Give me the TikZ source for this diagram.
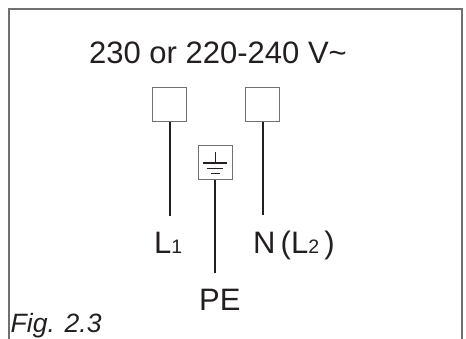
\documentclass[tikz,border=0pt]{standalone}
\usepackage{fontspec}
\setmainfont{Liberation Sans}
\usetikzlibrary{calc}
\definecolor{ink}{HTML}{231F20}
\definecolor{boxgray}{HTML}{707070}
\tikzset{
    terminal/.style = {draw=boxgray, rectangle, line width=1.2pt,
        minimum width=34pt, minimum height=34pt, inner sep=0pt},
    label/.style = {inner sep=0pt, anchor=base west, text=ink,
        font=\fontsize{31}{36}\selectfont},
    wire/.style = {draw=ink, line width=1.8pt, shorten >=15.5pt},
    frame/.style = {draw=boxgray, line width=1.3pt}
}
\newcommand{\idx}[1]{{\fontsize{19.5}{22}\selectfont #1}}
\begin{document}
\begin{tikzpicture}[x=1pt,y=-1pt]
                \useasboundingbox (0,0) rectangle (466,339);
                \draw [frame] (9,339) -- (9,9) -- (462,9) -- (462,339);
                \node[label] (title) at (89,64) {230 or 220-240 V\char"007E};
                \node[terminal] (tL1) at (169.7,104.3) {};
                \node[terminal] (tN) at (262.7,104.3) {};
                \node[terminal] (tPE) at (215.3,162.9) {};
                \begin{scope}[shift={(tPE.center)}, draw=ink, line width=1.3pt]
                    \draw (0,-11.2) -- (0,0);
                    \draw (-12,0) -- (12,0);
                    \draw (-8,5.4) -- (8,5.4);
                    \draw (-4.5,10.4) -- (4.5,10.4);
                \end{scope}
                \node[label] (lL1) at (154,253.3) {L\idx{1}};
                \node[label] (lN) at (253,253.3) {N\,(L\idx{2}\,)};
                \node[label] (lPE) at (199,310) {PE};
                \node[label, font=\fontsize{26.5}{30}\selectfont\itshape] (fig) at (10.5,332) {Fig. 2.3};
                \draw [wire] (tL1.south) -- (tL1.south |- lL1.north);
                \draw [wire] (tN.south) -- (tN.south |- lN.north);
                \draw [wire] (tPE.south) -- (tPE.south |- lPE.north);
            \end{tikzpicture}
\end{document}
